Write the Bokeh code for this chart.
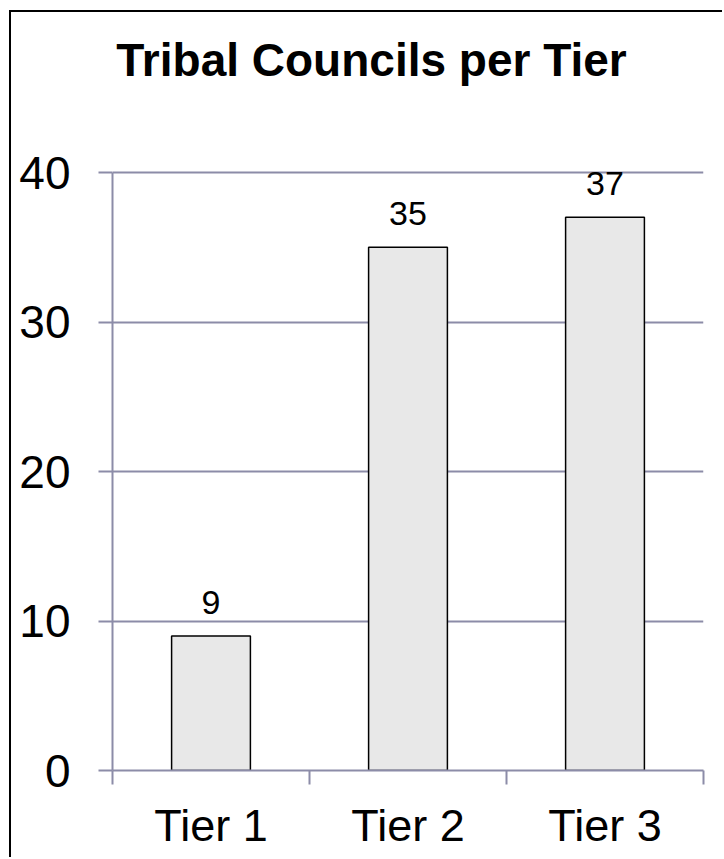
from bokeh.plotting import figure
from bokeh.models import ColumnDataSource, Range1d, FixedTicker, LabelSet, Label
from bokeh.core.properties import value
from bokeh.embed import file_html
from bokeh.resources import INLINE

categories = ["Tier 1", "Tier 2", "Tier 3"]
values = [9, 35, 37]
y_ticks = [0, 10, 20, 30, 40]
title_text = "Tribal Councils per Tier"

FONT = "Liberation Sans"
GRID = "#8c8ca8"

# layout (pixels): frame spans canvas top to axis; axis top (value 40) sits 160px below canvas top
PX_PER_UNIT = 598 / 40.0
Y_MAX = 40 + 160 / PX_PER_UNIT

xs = [i + 0.5 for i in range(len(categories))]
src = ColumnDataSource(dict(x=xs, top=values, label=[str(v) for v in values]))

p = figure(width=713, height=847, output_backend="svg", toolbar_location=None,
           x_range=Range1d(0, len(categories)), y_range=Range1d(0, Y_MAX),
           min_border_left=101, min_border_right=21, min_border_top=0, min_border_bottom=89,
           title=None)
p.styles = {"border-left": "2px solid black", "border-top": "2px solid black",
            "margin-left": "9px", "margin-top": "10px"}
p.outline_line_color = None
p.background_fill_color = "white"
p.border_fill_color = "white"

p.vbar(x="x", top="top", width=0.4, bottom=0, source=src,
       fill_color="#e8e8e8", line_color="black", line_width=1.5)

labels = LabelSet(x="x", y="top", text="label", source=src, y_offset=22,
                  text_align="center", text_baseline="alphabetic",
                  text_font=value(FONT), text_font_size="34px", text_color="black")
p.add_layout(labels)

# y axis
p.yaxis.bounds = (0, 40)
p.yaxis.ticker = FixedTicker(ticks=y_ticks, minor_ticks=[])
p.yaxis.axis_line_color = GRID
p.yaxis.axis_line_width = 2
p.yaxis.major_tick_line_color = GRID
p.yaxis.major_tick_line_width = 2
p.yaxis.major_tick_out = 14
p.yaxis.major_tick_in = 0
p.yaxis.minor_tick_line_color = None
p.yaxis.major_label_text_font = FONT
p.yaxis.major_label_text_font_size = "46px"
p.yaxis.major_label_text_color = "black"
p.yaxis.major_label_standoff = 28

# x axis
p.xaxis.ticker = FixedTicker(ticks=xs, minor_ticks=list(range(len(categories) + 1)))
p.xaxis.major_label_overrides = {x: c for x, c in zip(xs, categories)}
p.xaxis.axis_line_color = GRID
p.xaxis.axis_line_width = 2
p.xaxis.major_tick_line_color = None
p.xaxis.major_tick_out = 0
p.xaxis.major_tick_in = 0
p.xaxis.minor_tick_line_color = GRID
p.xaxis.minor_tick_line_width = 2
p.xaxis.minor_tick_out = 14
p.xaxis.minor_tick_in = 0
p.xaxis.major_label_text_font = FONT
p.xaxis.major_label_text_font_size = "45px"
p.xaxis.major_label_text_color = "black"
p.xaxis.major_label_standoff = 15

p.xgrid.grid_line_color = None
p.ygrid.ticker = FixedTicker(ticks=y_ticks)
p.ygrid.grid_line_color = GRID
p.ygrid.grid_line_width = 2

title = Label(text=title_text, x=259, y=711, x_units="screen", y_units="screen",
              text_align="center", text_baseline="alphabetic",
              text_font=FONT, text_font_size="46px", text_font_style="bold",
              text_color="black")
p.add_layout(title)

open("out.html", "w").write(file_html(p, INLINE))
